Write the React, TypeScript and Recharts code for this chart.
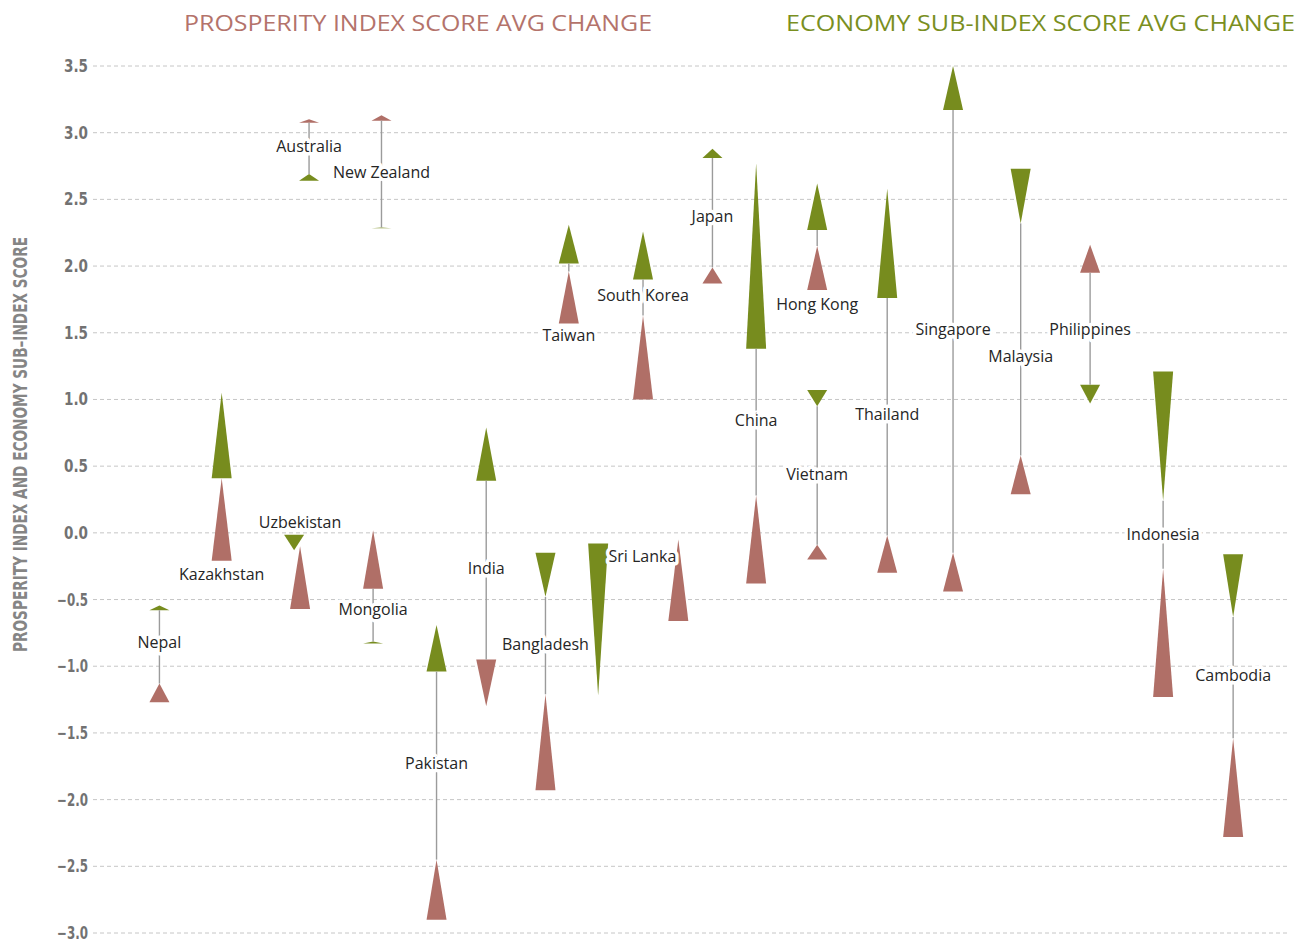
import React from 'react';
import { ComposedChart, Scatter, XAxis, YAxis, CartesianGrid, ReferenceLine, ReferenceArea } from 'recharts';

const countries = [
  'Nepal', 'Kazakhstan', 'Uzbekistan', 'Australia', 'Mongolia', 'New Zealand', 'Pakistan', 'India',
  'Bangladesh', 'Taiwan', 'Sri Lanka', 'South Korea', 'Japan', 'China', 'Hong Kong', 'Vietnam',
  'Thailand', 'Singapore', 'Malaysia', 'Philippines', 'Indonesia', 'Cambodia',
];

// column of each marker along the hidden x axis (0..20)
const prosperityX = [1.11, 2.15, 3.46, 3.61, 4.68, 4.82, 5.74, 6.57, 7.56, 7.95, 9.78, 9.19, 10.35, 11.08, 12.1, 12.1, 13.27, 14.37, 15.5, 16.66, 17.88, 19.05];
const economyX = [1.11, 2.15, 3.36, 3.61, 4.68, 4.82, 5.74, 6.57, 7.56, 7.95, 8.44, 9.19, 10.35, 11.08, 12.1, 12.1, 13.27, 14.37, 15.5, 16.66, 17.88, 19.05];
const labelX = [1.11, 2.15, 3.46, 3.61, 4.68, 4.82, 5.74, 6.57, 7.56, 7.95, 9.18, 9.19, 10.35, 11.08, 12.1, 12.1, 13.27, 14.37, 15.5, 16.66, 17.88, 19.05];

// triangle base (from) and apex (to)
const prosperityFrom = [-1.27, -0.21, -0.57, 3.075, -0.42, 3.09, -2.9, -0.95, -1.93, 1.57, -0.66, 1.0, 1.87, -0.38, 1.82, -0.2, -0.3, -0.44, 0.29, 1.95, -1.23, -2.28];
const prosperityTo = [-1.13, 0.41, -0.1, 3.1, 0.02, 3.13, -2.45, -1.3, -1.21, 1.96, -0.05, 1.63, 1.99, 0.28, 2.15, -0.09, -0.02, -0.15, 0.58, 2.16, -0.27, -1.54];
const economyFrom = [-0.58, 0.41, -0.015, 2.64, -0.83, 2.283, -1.04, 0.39, -0.15, 2.02, -0.08, 1.9, 2.81, 1.38, 2.27, 1.07, 1.76, 3.17, 2.73, 1.11, 1.21, -0.16];
const economyTo = [-0.545, 1.05, -0.13, 2.69, -0.815, 2.29, -0.69, 0.79, -0.48, 2.31, -1.22, 2.26, 2.88, 2.77, 2.62, 0.95, 2.58, 3.5, 2.32, 0.97, 0.24, -0.63];

const labelY = [-0.82, -0.315, 0.075, 2.9, -0.577, 2.7, -1.73, -0.266, -0.84, 1.48, -0.18, 1.78, 2.375, 0.84, 1.715, 0.44, 0.89, 1.525, 1.32, 1.525, -0.01, -1.07];

const yTicks = [3.5, 3, 2.5, 2, 1.5, 1, 0.5, 0, -0.5, -1, -1.5, -2, -2.5, -3];

const PINK = '#b06f67';
const GREEN = '#778c1e';
const TRI_WIDTH = 20;
const LABEL_FONT = '"Open Sans", "Noto Sans", sans-serif';
const NARROW_FONT = '"Liberation Sans Narrow", "DejaVu Sans Condensed", "Roboto Condensed", "Open Sans", sans-serif';

const span = (a: number, b: number): [number, number] => [Math.min(a, b), Math.max(a, b)];

const triangles = countries.flatMap((name, i) => [
  { key: name + '-p', x: prosperityX[i], from: prosperityFrom[i], to: prosperityTo[i], color: PINK },
  { key: name + '-e', x: economyX[i], from: economyFrom[i], to: economyTo[i], color: GREEN },
]);

// gray stem between the two markers of a country
const connectors = countries
  .map((name, i) => {
    if (prosperityX[i] !== economyX[i]) return null;
    const p = span(prosperityFrom[i], prosperityTo[i]);
    const e = span(economyFrom[i], economyTo[i]);
    const [upper, lower] = p[0] + p[1] > e[0] + e[1] ? [p, e] : [e, p];
    if (upper[0] <= lower[1]) return null;
    return { name, x: prosperityX[i], y1: upper[0], y2: lower[1] };
  })
  .filter(Boolean) as { name: string; x: number; y1: number; y2: number }[];

const labels = countries.map((name, i) => ({ name, x: labelX[i], y: labelY[i] }));

// draws a triangle inside the rect that ReferenceArea computed from the data
const triangleShape = (up: boolean, color: string) => (props: any) => {
  const { x, y, width, height } = props;
  if (x == null || y == null) return <g />;
  const top = Math.min(y, y + height);
  const bottom = Math.max(y, y + height);
  const cx = x + width / 2;
  const l = cx - TRI_WIDTH / 2;
  const r = cx + TRI_WIDTH / 2;
  const pts = up ? `${l},${bottom} ${r},${bottom} ${cx},${top}` : `${l},${top} ${r},${top} ${cx},${bottom}`;
  return <polygon points={pts} fill={color} />;
};

const CountryLabel = (props: any) => {
  const { cx, cy, payload } = props;
  return (
    <text
      x={cx}
      y={cy}
      dy={5.5}
      textAnchor="middle"
      fontFamily={LABEL_FONT}
      fontSize={16}
      fill="#262626"
      stroke="#fff"
      strokeWidth={7}
      strokeLinejoin="round"
      paintOrder="stroke"
    >
      {payload.name}
    </text>
  );
};

const YTick = (props: any) => {
  const { x, y, payload } = props;
  const v = payload.value as number;
  const s = (v < 0 ? '\u2212' : '') + Math.abs(v).toFixed(1);
  return (
    <text
      x={x}
      y={y}
      dy={6}
      textAnchor="end"
      fill="#727272"
      fontFamily={NARROW_FONT}
      fontSize={17}
      fontWeight={600}
      textLength={v < 0 ? 31 : 24}
      lengthAdjust="spacingAndGlyphs"
    >
      {s}
    </text>
  );
};

export default function App() {
  return (
    <div style={{ position: 'relative', width: 1303, height: 942 }}>
      <style>{'body{margin:0;overflow:hidden}'}</style>
      <ComposedChart width={1303} height={942} data={labels} margin={{ top: 66, right: 13, bottom: 9, left: 0 }}>
        <CartesianGrid vertical={false} stroke="#c6c6c6" strokeDasharray="4 3" />
        <XAxis type="number" dataKey="x" domain={[0, 20]} hide />
        <YAxis
          type="number"
          domain={[-3, 3.5]}
          ticks={yTicks}
          width={93}
          axisLine={false}
          tickLine={false}
          tickSize={0}
          tickMargin={5}
          tick={<YTick />}
          interval={0}
        />
        {connectors.map((c) => (
          <ReferenceLine
            key={c.name}
            segment={[{ x: c.x, y: c.y1 }, { x: c.x, y: c.y2 }]}
            stroke="#9b9b9b"
            strokeWidth={1.4}
          />
        ))}
        <Scatter dataKey="y" shape={<CountryLabel />} isAnimationActive={false} />
        {triangles.map((t) => (
          <ReferenceArea
            key={t.key}
            x1={t.x - 0.05}
            x2={t.x + 0.05}
            y1={Math.min(t.from, t.to)}
            y2={Math.max(t.from, t.to)}
            fill={t.color}
            fillOpacity={1}
            stroke="none"
            shape={triangleShape(t.to > t.from, t.color)}
          />
        ))}
      </ComposedChart>
      <svg width={1303} height={942} style={{ position: 'absolute', left: 0, top: 0, pointerEvents: 'none' }}>
        <text x={184} y={31} fill="#b4736b" fontFamily={LABEL_FONT} fontSize={22} textLength={468} lengthAdjust="spacingAndGlyphs">
          PROSPERITY INDEX SCORE AVG CHANGE
        </text>
        <text x={786} y={31} fill="#7a8f1f" fontFamily={LABEL_FONT} fontSize={22} textLength={509} lengthAdjust="spacingAndGlyphs">
          ECONOMY SUB-INDEX SCORE AVG CHANGE
        </text>
        <text
          transform="translate(27,444.5) rotate(-90)"
          textAnchor="middle"
          fill="#858585"
          fontFamily={NARROW_FONT}
          fontSize={20}
          fontWeight={600}
          textLength={415}
          lengthAdjust="spacingAndGlyphs"
        >
          PROSPERITY INDEX AND ECONOMY SUB–INDEX SCORE
        </text>
      </svg>
    </div>
  );
}
